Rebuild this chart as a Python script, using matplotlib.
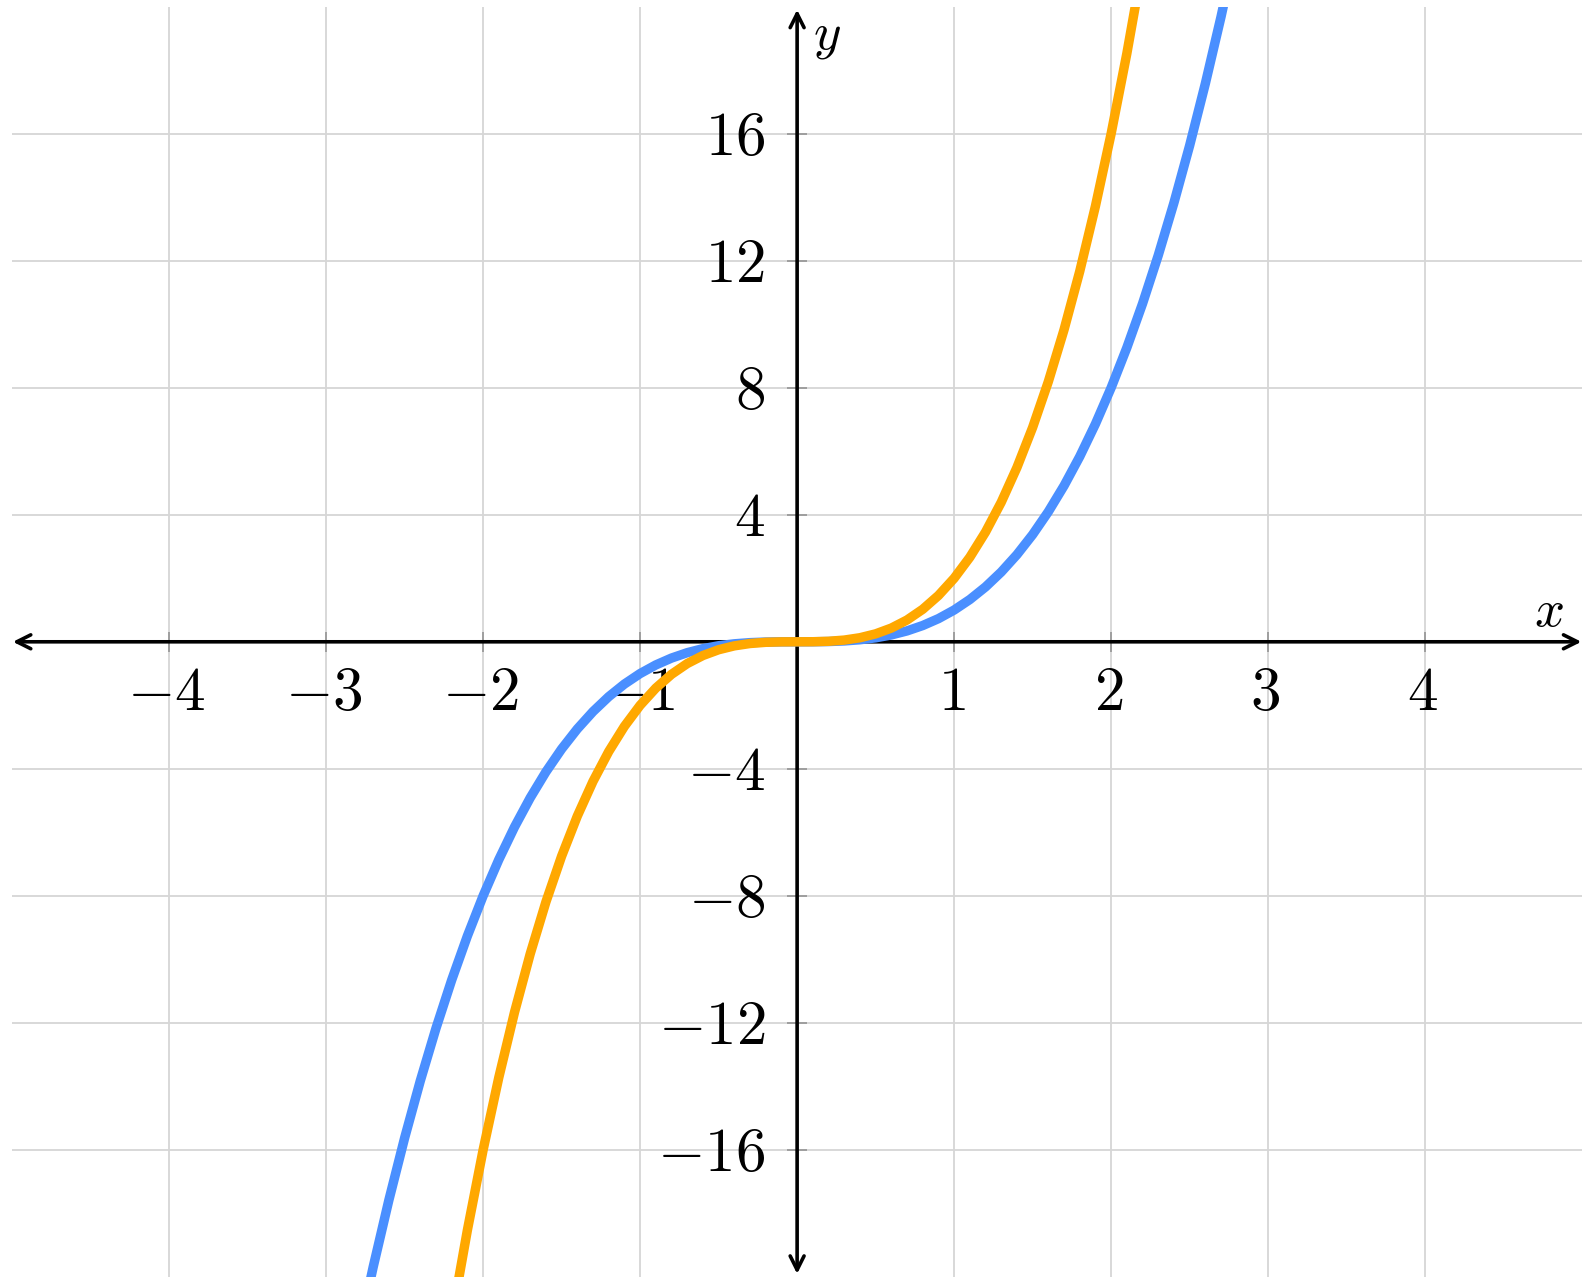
import matplotlib
matplotlib.use("Agg")
import matplotlib.pyplot as plt

plt.rcParams['mathtext.fontset'] = 'cm'
plt.rcParams['font.family'] = ['DejaVu Serif']

# ---- data ----
x_blue = [-2.8, -2.7, -2.6, -2.5, -2.4, -2.3, -2.2, -2.1, -2.0, -1.9, -1.8, -1.7, -1.6, -1.5,
          -1.4, -1.3, -1.2, -1.1, -1.0, -0.9, -0.8, -0.7, -0.6, -0.5, -0.4, -0.3, -0.2, -0.1,
          0.0, 0.1, 0.2, 0.3, 0.4, 0.5, 0.6, 0.7, 0.8, 0.9, 1.0, 1.1, 1.2, 1.3, 1.4, 1.5,
          1.6, 1.7, 1.8, 1.9, 2.0, 2.1, 2.2, 2.3, 2.4, 2.5, 2.6, 2.7, 2.8]
y_blue = [-21.952, -19.683, -17.576, -15.625, -13.824, -12.167, -10.648, -9.261, -8.0, -6.859,
          -5.832, -4.913, -4.096, -3.375, -2.744, -2.197, -1.728, -1.331, -1.0, -0.729, -0.512,
          -0.343, -0.216, -0.125, -0.064, -0.027, -0.008, -0.001,
          0.0, 0.001, 0.008, 0.027, 0.064, 0.125, 0.216, 0.343, 0.512, 0.729, 1.0, 1.331,
          1.728, 2.197, 2.744, 3.375, 4.096, 4.913, 5.832, 6.859, 8.0, 9.261, 10.648, 12.167,
          13.824, 15.625, 17.576, 19.683, 21.952]

x_orange = [-2.2, -2.1, -2.0, -1.9, -1.8, -1.7, -1.6, -1.5, -1.4, -1.3, -1.2, -1.1, -1.0,
            -0.9, -0.8, -0.7, -0.6, -0.5, -0.4, -0.3, -0.2, -0.1,
            0.0, 0.1, 0.2, 0.3, 0.4, 0.5, 0.6, 0.7, 0.8, 0.9, 1.0, 1.1, 1.2, 1.3,
            1.4, 1.5, 1.6, 1.7, 1.8, 1.9, 2.0, 2.1, 2.2]
y_orange = [-21.296, -18.522, -16.0, -13.718, -11.664, -9.826, -8.192, -6.75, -5.488, -4.394,
            -3.456, -2.662, -2.0, -1.458, -1.024, -0.686, -0.432, -0.25, -0.128, -0.054,
            -0.016, -0.002,
            0.0, 0.002, 0.016, 0.054, 0.128, 0.25, 0.432, 0.686, 1.024, 1.458, 2.0, 2.662,
            3.456, 4.394, 5.488, 6.75, 8.192, 9.826, 11.664, 13.718, 16.0, 18.522, 21.296]

x_ticks = [-4, -3, -2, -1, 1, 2, 3, 4]
y_ticks = [-16, -12, -8, -4, 4, 8, 12, 16]

# ---- figure ----
fig = plt.figure(figsize=(15.86, 12.8), dpi=100)
ax = fig.add_axes([0.0076, 0.0023, 0.99, 0.9926])
ax.set_xlim(-5, 5)
ax.set_ylim(-20, 20)
ax.axis('off')

## grid
for xv in x_ticks:
    ax.axvline(xv, color='#d6d6d6', lw=1.3, zorder=0)
for yv in y_ticks:
    ax.axhline(yv, color='#d6d6d6', lw=1.3, zorder=0)

## little tick marks on the axes
ax.plot(x_ticks, [0] * len(x_ticks), ls='none', marker='|', ms=14, mew=1.3, color='#999999', zorder=1)
ax.plot([0] * len(y_ticks), y_ticks, ls='none', marker='_', ms=14, mew=1.3, color='#999999', zorder=1)

## axes with open arrow heads
arrow = dict(arrowstyle='<->,head_length=1.0,head_width=0.5', color='black', lw=2.6,
             shrinkA=0, shrinkB=0, capstyle='round', joinstyle='round')
ax.annotate('', xy=(-4.995, 0), xytext=(4.995, 0), arrowprops=arrow, zorder=2)
ax.annotate('', xy=(0, -19.9), xytext=(0, 19.9), arrowprops=arrow, zorder=2)

## curves
ax.plot(x_blue, y_blue, color='#4a8fff', lw=6.8, solid_capstyle='butt', solid_joinstyle='round', zorder=3)
ax.plot(x_orange, y_orange, color='#ffa800', lw=6.8, solid_capstyle='butt', solid_joinstyle='round', zorder=4)

## tick labels
for xv in x_ticks:
    ax.annotate(r'$%d$' % xv if xv > 0 else r'$-%d$' % abs(xv), (xv, 0),
                xytext=(-2, -37), textcoords='offset points', ha='center', va='center',
                fontsize=44, zorder=2)
for yv in y_ticks:
    ax.annotate(r'$%d$' % yv if yv > 0 else r'$-%d$' % abs(yv), (0, yv),
                xytext=(-23, -3), textcoords='offset points', ha='right', va='center',
                fontsize=44, zorder=2)

## axis names
ax.text(4.79, 0.95, r'$x$', fontsize=38, ha='center', va='center')
ax.text(0.19, 19.1, r'$y$', fontsize=38, ha='center', va='center')

fig.savefig('out.png', dpi=100)
